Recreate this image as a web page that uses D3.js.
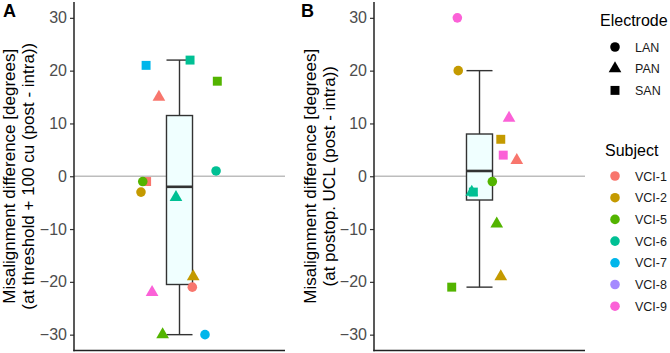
<!DOCTYPE html>
<html><head><meta charset="utf-8">
<script src="https://cdn.jsdelivr.net/npm/d3@7"></script>
<style>body{margin:0;background:#fff}svg{display:block}text{font-family:"Liberation Sans",Arial,sans-serif}</style>
</head><body><svg id="c" width="670" height="353"></svg>
<script>
// ---- data ----
const subjects = ["VCI-1","VCI-2","VCI-5","VCI-6","VCI-7","VCI-8","VCI-9"];
const subjectColors = ["#F8766D","#C49A00","#53B400","#00C094","#00B6EB","#A58AFF","#FB61D7"];
const electrodes = ["LAN","PAN","SAN"];
const yTicks = [-30,-20,-10,0,10,20,30];

// Panel A: at threshold + 100 cu
const aSubject   = ["VCI-7","VCI-6","VCI-5","VCI-1","VCI-6","VCI-1","VCI-5","VCI-2","VCI-6","VCI-2","VCI-1","VCI-9","VCI-5","VCI-7"];
const aElectrode = ["SAN","SAN","SAN","PAN","LAN","SAN","LAN","LAN","PAN","PAN","LAN","PAN","PAN","LAN"];
const aValue     = [21,22,18,15,1,-1,-1,-3,-4,-19,-21,-22,-30,-30];
const aJitter    = [-0.19,0.06,0.215,-0.117,0.208,-0.187,-0.209,-0.219,-0.02,0.078,0.073,-0.156,-0.096,0.145];

// Panel B: at postop. UCL
const bSubject   = ["VCI-9","VCI-2","VCI-9","VCI-2","VCI-9","VCI-1","VCI-5","VCI-6","VCI-6","VCI-5","VCI-2","VCI-5"];
const bElectrode = ["LAN","LAN","PAN","SAN","SAN","PAN","LAN","SAN","PAN","PAN","PAN","SAN"];
const bValue     = [30,20,11,7,4,3,-1,-3,-3,-9,-19,-21];
const bJitter    = [-0.126,-0.121,0.168,0.121,0.135,0.212,0.073,-0.035,-0.044,0.098,0.121,-0.158];

const panels = [
  {label:"A", subj:aSubject, elec:aElectrode, val:aValue, jit:aJitter,
   title:["Misalignment difference [degrees]","(at threshold + 100 cu (post - intra))"]},
  {label:"B", subj:bSubject, elec:bElectrode, val:bValue, jit:bJitter,
   title:["Misalignment difference [degrees]","(at postop. UCL (post - intra))"]}
];

// ---- layout ----
const svg = d3.select("#c");
const color = d3.scaleOrdinal(subjects, subjectColors);
const shapeOf = d3.scaleOrdinal(electrodes, [d3.symbolCircle, d3.symbolTriangle, d3.symbolSquare]);
const sizeOf = d3.scaleOrdinal(electrodes, [72, 70, 80]);
const y = d3.scaleLinear().domain([-33, 33]).range([350.5, 2]);
const panelX = [74, 374];
const panelW = 211;
const boxHalf = 0.074;

panels.forEach((p, i) => {
  const x0 = panelX[i];
  const x = d3.scaleLinear().domain([0.4, 1.6]).range([x0, x0 + panelW]);
  const g = svg.append("g");

  // zero reference line
  g.append("line").attr("x1", x0).attr("x2", x0 + panelW)
    .attr("y1", y(0)).attr("y2", y(0))
    .attr("stroke", "#bdbdbd").attr("stroke-width", 1.4);

  // box stats
  const sorted = p.val.slice().sort(d3.ascending);
  const q1 = d3.quantile(sorted, 0.25), med = d3.quantile(sorted, 0.5), q3 = d3.quantile(sorted, 0.75);
  const iqr = q3 - q1;
  const lo = d3.min(sorted.filter(v => v >= q1 - 1.5 * iqr));
  const hi = d3.max(sorted.filter(v => v <= q3 + 1.5 * iqr));
  const bl = x(1 - boxHalf), br = x(1 + boxHalf), cx = x(1);
  const st = "#333333";
  g.append("line").attr("x1", cx).attr("x2", cx).attr("y1", y(hi)).attr("y2", y(lo)).attr("stroke", st).attr("stroke-width", 1.4);
  [hi, lo].forEach(v => g.append("line").attr("x1", bl).attr("x2", br).attr("y1", y(v)).attr("y2", y(v)).attr("stroke", st).attr("stroke-width", 1.4));
  g.append("rect").attr("x", bl).attr("width", br - bl).attr("y", y(q3)).attr("height", y(q1) - y(q3))
    .attr("fill", "#F0FFFF").attr("stroke", st).attr("stroke-width", 1.4);
  g.append("line").attr("x1", bl).attr("x2", br).attr("y1", y(med)).attr("y2", y(med)).attr("stroke", st).attr("stroke-width", 2.6);

  // points
  p.val.forEach((v, k) => {
    g.append("path")
      .attr("d", d3.symbol().type(shapeOf(p.elec[k])).size(sizeOf(p.elec[k]))())
      .attr("transform", `translate(${x(1 + p.jit[k])},${y(v)})`)
      .attr("fill", color(p.subj[k]));
  });

  // axes
  const ax = g.append("g").attr("transform", `translate(${x0},0)`)
    .call(d3.axisLeft(y).tickValues(yTicks).tickSize(4).tickPadding(3));
  ax.select(".domain").remove();
  ax.selectAll(".tick line").attr("stroke", "#333").attr("stroke-width", 1.2);
  ax.selectAll(".tick text").attr("fill", "#4d4d4d").style("font-size", "16px")
    .style("font-family", '"Liberation Sans",Arial,sans-serif');
  g.append("line").attr("x1", x0).attr("x2", x0).attr("y1", y.range()[1]).attr("y2", y.range()[0] + 0.7)
    .attr("stroke", "#222").attr("stroke-width", 1.5);
  g.append("line").attr("x1", x0 - 0.7).attr("x2", x0 + panelW).attr("y1", y.range()[0]).attr("y2", y.range()[0])
    .attr("stroke", "#222").attr("stroke-width", 1.5);

  // y title
  const tcx = i === 0 ? 15 : 316;
  const tcy = (y.range()[0] + y.range()[1]) / 2;
  p.title.forEach((t, j) => {
    svg.append("text").attr("transform", `translate(${tcx + j * 19},${tcy}) rotate(-90)`)
      .attr("text-anchor", "middle").style("font-size", "17px").attr("fill", "#000").text(t);
  });

  // panel label
  svg.append("text").attr("x", i === 0 ? 3 : 301).attr("y", 17)
    .style("font-size", "18px").style("font-weight", "bold").text(p.label);
});

// ---- legends ----
const lg = svg.append("g");
lg.append("text").attr("x", 600).attr("y", 26).style("font-size", "16px").text("Electrode");
electrodes.forEach((e, k) => {
  const yy = 47 + k * 21.7;
  lg.append("path").attr("d", d3.symbol().type(shapeOf(e)).size(sizeOf(e))())
    .attr("transform", `translate(615,${yy})`).attr("fill", "#000");
  lg.append("text").attr("x", 635).attr("y", yy + 4.5).style("font-size", "12.5px").attr("fill", "#1a1a1a").text(e);
});
lg.append("text").attr("x", 605).attr("y", 156).style("font-size", "16px").text("Subject");
subjects.forEach((s, k) => {
  const yy = 176 + k * 21.7;
  lg.append("path").attr("d", d3.symbol().type(d3.symbolCircle).size(72)())
    .attr("transform", `translate(615,${yy})`).attr("fill", color(s));
  lg.append("text").attr("x", 635).attr("y", yy + 4.5).style("font-size", "12.5px").attr("fill", "#1a1a1a").text(s);
});
</script></body></html>
